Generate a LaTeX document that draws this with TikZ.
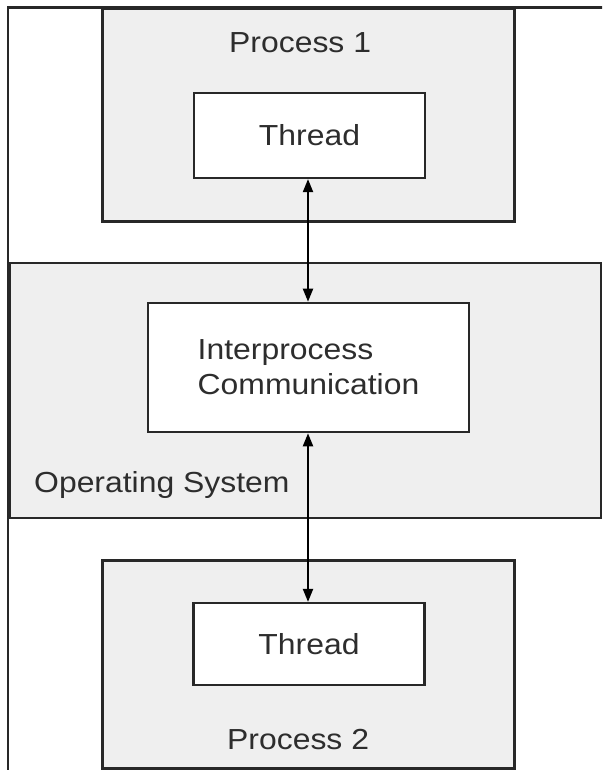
\documentclass[tikz,border=0pt]{standalone}
\usepackage{fontspec}
\setmainfont[FakeStretch=1.1]{Liberation Sans}
\usetikzlibrary{arrows.meta}
\definecolor{boxgrey}{RGB}{239,239,239}
\definecolor{linegrey}{RGB}{40,40,40}
\definecolor{txtgrey}{RGB}{45,45,45}
\tikzset{
  procbox/.style={draw=linegrey, line width=3pt, fill=boxgrey, minimum width=412pt, inner sep=0pt},
  threadbox/.style={draw=linegrey, line width=2.2pt, fill=white, minimum width=231pt, inner sep=0pt, text=txtgrey},
  osband/.style={draw=linegrey, line width=1.6pt, fill=boxgrey, inner sep=0pt},
  ipcbox/.style={draw=linegrey, line width=2.6pt, fill=white, minimum width=321pt, minimum height=129pt, inner sep=0pt, align=left, text=txtgrey},
  lbl/.style={text=txtgrey, inner sep=0pt},
  link/.style={draw=black, line width=2pt, {Triangle[length=13pt,width=10pt]}-{Triangle[length=13pt,width=10pt]}}
}
\begin{document}
\begin{tikzpicture}[x=1pt,y=-1pt, font=\fontsize{29}{35}\selectfont]
\useasboundingbox (0,0) rectangle (602,770);
\clip (0,0) rectangle (602,770);
% outer frame
\draw[linegrey, line width=2.2pt] (8,7.5) rectangle (640,800);
% process 1
\node[procbox, minimum height=212pt] (p1) at (308,115) {};
% operating system band
\node[osband, minimum width=591pt, minimum height=255pt] (os) at (305.5,390.5) {};
% process 2
\node[procbox, minimum height=208pt] (p2) at (308,664) {};
% threads
\node[threadbox, minimum height=85pt] (t1) at (309.5,135.5) {Thread};
\node[threadbox, minimum height=82pt] (t2) at (309,644) {Thread};
% IPC
\node[ipcbox] (ipc) at (308.5,367.5) {Interprocess\\Communication};
% labels
\node[lbl, anchor=base west] (p1l) at (229,53) {Process 1};
\node[lbl, anchor=base west] (p2l) at (227,749) {Process 2};
\node[lbl, anchor=base west] (osl) at (34,492) {Operating System};
% connectors
\draw[link] (t1.south -| 308,0) -- (ipc.north -| 308,0);
\draw[link] (ipc.south -| 308,0) -- (t2.north -| 308,0);
\end{tikzpicture}
\end{document}
